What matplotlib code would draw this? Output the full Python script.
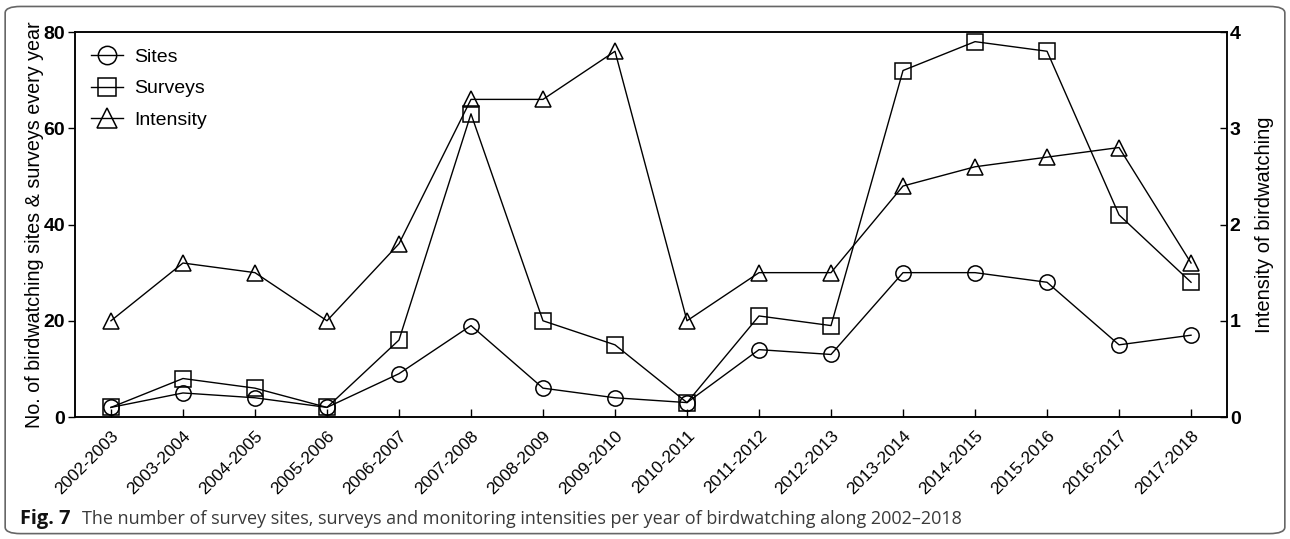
import matplotlib.pyplot as plt
from matplotlib.patches import FancyBboxPatch
import numpy as np

seasons = ['2002-2003', '2003-2004', '2004-2005', '2005-2006', '2006-2007',
           '2007-2008', '2008-2009', '2009-2010', '2010-2011', '2011-2012',
           '2012-2013', '2013-2014', '2014-2015', '2015-2016', '2016-2017',
           '2017-2018']
sites = [2, 5, 4, 2, 9, 19, 6, 4, 3, 14, 13, 30, 30, 28, 15, 17]
surveys = [2, 8, 6, 2, 16, 63, 20, 15, 3, 21, 19, 72, 78, 76, 42, 28]
intensity = [1.0, 1.6, 1.5, 1.0, 1.8, 3.3, 3.3, 3.8, 1.0, 1.5, 1.5, 2.4, 2.6, 2.7, 2.8, 1.6]

plt.rcParams['font.family'] = ['Liberation Sans', 'DejaVu Sans']

fig = plt.figure(figsize=(12.9, 5.39), dpi=100)
ax = fig.add_axes([0.0581, 0.2263, 0.8931, 0.7143])
ax2 = ax.twinx()

x = np.arange(len(seasons))
style = dict(color='black', lw=1.0, mfc='none', mec='black', mew=1.1)
l1, = ax.plot(x, sites, marker='o', ms=11, label='Sites', **style)
l2, = ax.plot(x, surveys, marker='s', ms=11, label='Surveys', **style)
l3, = ax2.plot(x, intensity, marker='^', ms=12, label='Intensity', **style)

ax.set_xlim(-0.5, 15.5)
ax.set_ylim(0, 80)
ax2.set_ylim(0, 4)
ax.set_yticks([0, 20, 40, 60, 80])
ax2.set_yticks([0, 1, 2, 3, 4])
ax.set_xticks(x)
ax.set_xticklabels(seasons, rotation=45, ha='right', rotation_mode='anchor', fontsize=12.4)

ax.tick_params(axis='x', direction='in', length=6, width=1, pad=8)
ax.tick_params(axis='y', direction='out', length=5, width=1, labelsize=14, pad=2)
ax2.tick_params(axis='y', direction='in', length=5, width=1, labelsize=14, pad=2)
for lab in ax.get_yticklabels() + ax2.get_yticklabels():
    lab.set_fontweight('bold')

for a in (ax, ax2):
    for s in a.spines.values():
        s.set_linewidth(1.1)

ax.set_ylabel('No. of birdwatching sites & surveys every year', fontsize=14.2, labelpad=0)
ax2.set_ylabel('Intensity of birdwatching', fontsize=14.5, labelpad=10)

ax.legend(handles=[l1, l2, l3], loc='upper left', frameon=False, fontsize=14,
          handlelength=1.6, labelspacing=0.7, borderaxespad=0.45,
          markerscale=1.2, handletextpad=0.6)

fig.text(0.0155, 0.028, 'Fig. 7', fontsize=14.4, fontweight='bold',
         family=['Open Sans', 'DejaVu Sans'], color='#111111')
fig.text(0.0636, 0.028, 'The number of survey sites, surveys and monitoring intensities '
         'per year of birdwatching along 2002\u20132018', fontsize=13.0,
         family=['Open Sans', 'DejaVu Sans'], color='#3a3a3a')

border = FancyBboxPatch((0.004, 0.01), 0.992, 0.978, transform=fig.transFigure,
                        boxstyle='round,pad=0,rounding_size=0.012', fill=False,
                        ec='#666666', lw=1.2)
fig.patches.append(border)

fig.savefig('out.png', dpi=100)
